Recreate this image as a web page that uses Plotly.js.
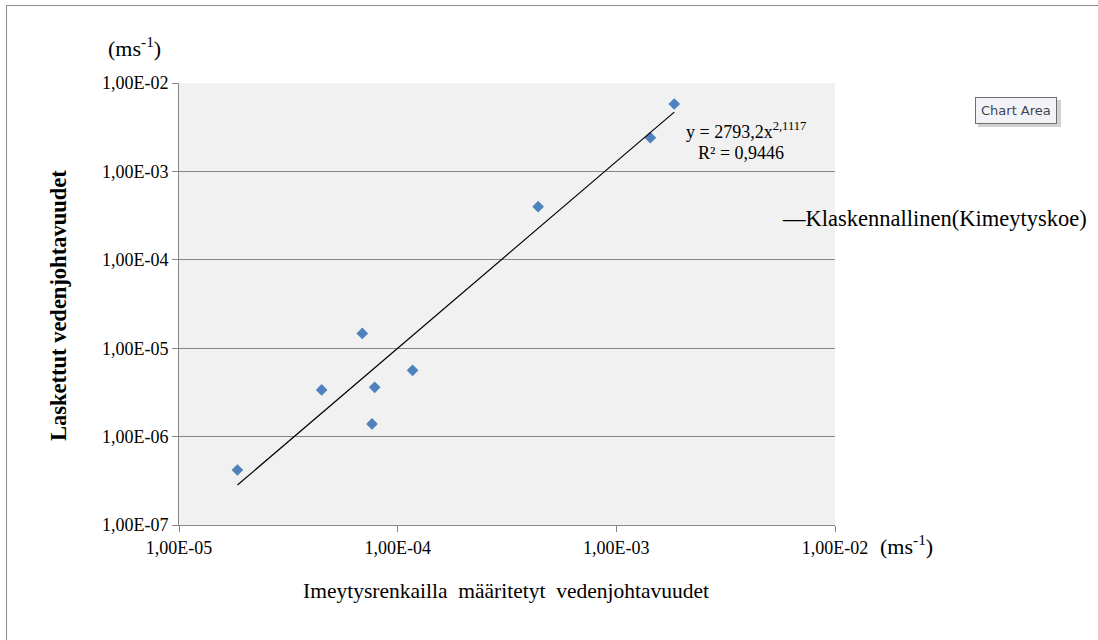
<!DOCTYPE html>
<html>
<head>
<meta charset="utf-8">
<script src="https://cdn.plot.ly/plotly-3.0.1.min.js"></script>
<style>
  html, body { margin: 0; padding: 0; background: #ffffff; }
  #chart { width: 1098px; height: 640px; }
</style>
</head>
<body>
<div id="chart"></div>
<script>
// Measured infiltration-ring conductivities (x) vs. calculated conductivities (y), m/s
const measuredK = [1.85e-5, 4.49e-5, 6.89e-5, 7.85e-5, 7.63e-5, 1.17e-4, 4.39e-4, 1.43e-3, 1.84e-3];
const calculatedK = [4.19e-7, 3.37e-6, 1.47e-5, 3.61e-6, 1.39e-6, 5.62e-6, 3.99e-4, 2.41e-3, 5.79e-3];

// Power-law trendline y = a * x^b as stated in the equation label
const trendA = 2793.2;
const trendB = 2.1117;
const trendR2 = '0,9446';
const trendName = 'Klaskennallinen(Kimeytyskoe)';

const xTickVals = [1e-5, 1e-4, 1e-3, 1e-2];
const xTickText = ['1,00E-05', '1,00E-04', '1,00E-03', '1,00E-02'];
const yTickVals = [1e-7, 1e-6, 1e-5, 1e-4, 1e-3, 1e-2];
const yTickText = ['1,00E-07', '1,00E-06', '1,00E-05', '1,00E-04', '1,00E-03', '1,00E-02'];

const serif = 'Liberation Serif, Times New Roman, serif';

// plot-area box in pixels, used to place the free-standing labels
const W = 1098, H = 640;
const plotL = 179, plotR = 835, plotT = 83, plotB = 525;
const px = v => (v - plotL) / (plotR - plotL);
const py = v => (plotB - v) / (plotB - plotT);

const xMin = Math.min(...measuredK);
const xMax = Math.max(...measuredK);
const trendX = [xMin, xMax];
const trendY = trendX.map(x => trendA * Math.pow(x, trendB));

const points = {
  x: measuredK,
  y: calculatedK,
  type: 'scatter',
  mode: 'markers',
  marker: { symbol: 'diamond', size: 9, color: '#4f81bd' },
  showlegend: false,
  hoverinfo: 'x+y'
};

const trend = {
  x: trendX,
  y: trendY,
  type: 'scatter',
  mode: 'lines',
  name: trendName,
  line: { color: '#000000', width: 1.2 },
  showlegend: false
};

const gray = '#868686';

const layout = {
  width: W,
  height: H,
  autosize: false,
  margin: { l: plotL, r: W - plotR, t: plotT, b: H - plotB, pad: 0 },
  paper_bgcolor: '#ffffff',
  plot_bgcolor: '#f1f1f1',
  showlegend: false,
  font: { family: serif, size: 18, color: '#000000' },
  xaxis: {
    type: 'log',
    range: [-5, -2],
    tickmode: 'array',
    tickvals: xTickVals,
    ticktext: xTickText,
    ticks: 'outside',
    ticklen: 6,
    tickcolor: gray,
    showline: true,
    linecolor: gray,
    linewidth: 1,
    showgrid: false,
    zeroline: false,
    automargin: false,
    tickfont: { family: serif, size: 18, color: '#000000' }
  },
  yaxis: {
    type: 'log',
    range: [-7, -2],
    tickmode: 'array',
    tickvals: yTickVals,
    ticktext: yTickText,
    ticks: 'outside',
    ticklen: 6,
    tickcolor: gray,
    showline: true,
    linecolor: gray,
    linewidth: 1,
    showgrid: true,
    gridcolor: gray,
    gridwidth: 1,
    zeroline: false,
    automargin: false,
    tickfont: { family: serif, size: 18, color: '#000000' }
  },
  annotations: [
    {
      text: 'Laskettut vedenjohtavuudet',
      xref: 'paper', yref: 'paper',
      x: px(58), y: py(306),
      xanchor: 'center', yanchor: 'middle',
      textangle: -90, showarrow: false,
      font: { family: serif, size: 22.5, color: '#000000', weight: 'bold' }
    },
    {
      text: 'Imeytysrenkailla&nbsp; määritetyt&nbsp; vedenjohtavuudet',
      xref: 'paper', yref: 'paper',
      x: px(506), y: py(591),
      xanchor: 'center', yanchor: 'middle',
      showarrow: false,
      font: { family: serif, size: 21.5, color: '#000000' }
    },
    {
      text: '(ms<sup>-1</sup>)',
      xref: 'paper', yref: 'paper',
      x: px(134), y: py(47),
      xanchor: 'center', yanchor: 'middle',
      showarrow: false,
      font: { family: serif, size: 22, color: '#000000' }
    },
    {
      text: '(ms<sup>-1</sup>)',
      xref: 'paper', yref: 'paper',
      x: px(906), y: py(545),
      xanchor: 'center', yanchor: 'middle',
      showarrow: false,
      font: { family: serif, size: 22, color: '#000000' }
    },
    {
      text: 'y = ' + String(trendA).replace('.', ',') + 'x<sup>' + String(trendB).replace('.', ',') + '</sup>',
      xref: 'paper', yref: 'paper',
      x: px(746), y: py(131),
      xanchor: 'center', yanchor: 'middle',
      showarrow: false,
      font: { family: serif, size: 18, color: '#000000' }
    },
    {
      text: 'R² = ' + trendR2,
      xref: 'paper', yref: 'paper',
      x: px(741), y: py(153),
      xanchor: 'center', yanchor: 'middle',
      showarrow: false,
      font: { family: serif, size: 18, color: '#000000' }
    },
    // series key for the trendline
    {
      text: '—' + trendName,
      xref: 'paper', yref: 'paper',
      x: px(780), y: py(218),
      xanchor: 'left', yanchor: 'middle',
      showarrow: false,
      font: { family: serif, size: 22.5, color: '#000000' }
    },
    {
      text: 'Chart Area',
      xref: 'paper', yref: 'paper',
      x: px(1016), y: py(110),
      xanchor: 'center', yanchor: 'middle',
      showarrow: false,
      bgcolor: '#f3f3f7',
      bordercolor: '#6f6f6f',
      borderwidth: 1,
      borderpad: 5,
      font: { family: 'DejaVu Sans, sans-serif', size: 13, color: '#3b4452' }
    }
  ],
  shapes: [
    // tooltip drop shadow
    {
      type: 'rect', xref: 'paper', yref: 'paper', layer: 'below',
      x0: px(978), x1: px(1061),
      y0: py(127), y1: py(100),
      line: { width: 0 }, fillcolor: 'rgba(0,0,0,0.18)'
    },
    // chart-area frame (top and left edges)
    {
      type: 'line', xref: 'paper', yref: 'paper',
      x0: px(6), x1: px(1098),
      y0: py(5.5), y1: py(5.5),
      line: { color: '#8c8c8c', width: 1 }
    },
    {
      type: 'line', xref: 'paper', yref: 'paper',
      x0: px(6.5), x1: px(6.5),
      y0: py(5), y1: py(640),
      line: { color: '#8c8c8c', width: 1 }
    }
  ]
};

Plotly.newPlot('chart', [points, trend], layout, { displayModeBar: false, staticPlot: true });
</script>
</body>
</html>
